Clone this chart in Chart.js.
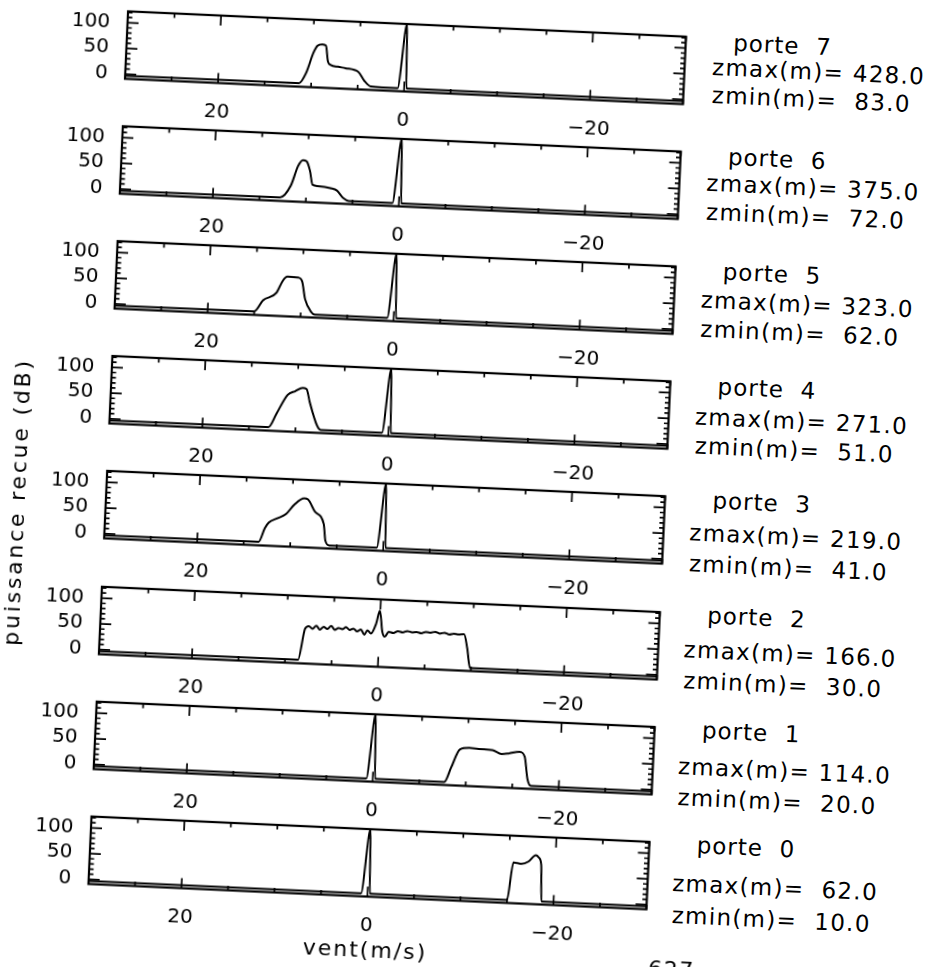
<!DOCTYPE html>
<html>
<head>
<meta charset="utf-8">
<script src="https://cdn.jsdelivr.net/npm/chart.js@4/dist/chart.umd.min.js"></script>
<style>
  html, body { margin: 0; padding: 0; background: #fff; overflow: hidden; width: 925px; height: 967px; }
  #sheet { position: absolute; left: 0; top: 0; width: 925px; height: 967px;
           transform-origin: 462.5px 483.5px; transform: rotate(2.6deg); }
  #sheet canvas { position: absolute; }
  .txt { position: absolute; white-space: pre; font-family: 'DejaVu Sans', sans-serif;
         color: #000; line-height: 1; }
</style>
</head>
<body>
<div id="sheet"></div>
<script>
// Range gates, top panel first
const gates = [7, 6, 5, 4, 3, 2, 1, 0];
const zmaxM = [428.0, 375.0, 323.0, 271.0, 219.0, 166.0, 114.0, 62.0];
const zminM = [83.0, 72.0, 62.0, 51.0, 41.0, 30.0, 20.0, 10.0];

// Axis ticks
const ventTicks = [20, 0, -20];
const puisTicks = [0, 50, 100];

// Doppler spectra: wind speed (m/s) and received power (dB) for each gate
const vent7 = [30, 11.3, 10.6, 9.9, 9.5, 9.0, 8.6, 8.3, 8.0, 7.2, 6.4, 5.0, 4.3, 3.6, 0.7, 0, -0.25, -30];
const puis7 = [-3, -2, 18, 58, 72, 75, 73, 42, 36, 33, 31, 25, 8, -2, -3, 122, -3, -3];

const vent6 = [30, 12.8, 11.7, 11.0, 10.5, 10.1, 9.7, 9.35, 8.8, 7.4, 6.7, 6.0, 5.4, 0.7, 0, -0.25, -30];
const puis6 = [-3, -2, 21, 60, 72, 70, 52, 25, 23, 20, 16, 2, -3, -3, 122, -3, -3];

const vent5 = [30, 15.0, 14.1, 12.7, 12.1, 11.6, 10.4, 10.0, 9.6, 8.9, 8.5, 0.7, 0, -0.25, -30];
const puis5 = [-3, -2, 20, 36, 59, 68, 67, 60, 26, 2, -3, -3, 122, -3, -3];

const vent4 = [30, 12.9, 12.1, 11.0, 10.2, 9.4, 9.0, 8.6, 7.7, 7.3, 0.7, 0, -0.25, -30];
const puis4 = [-3, -2, 25, 62, 70, 77, 75, 50, 5, -3, -3, 122, -3, -3];

const vent3 = [30, 13.4, 12.8, 12.4, 11.5, 10.6, 9.75, 8.7, 8.3, 7.5, 6.5, 6.25, 5.8, 0.7, 0, -0.25, -30];
const puis3 = [-3, -2, 25, 36, 45, 54, 73, 86, 84, 61, 38, 6, -3, -3, 122, -3, -3];

const vent2 = [30, 8.6, 8.0, 7.6, 7.2, 6.8, 6.4, 6.0, 5.6, 5.2, 4.8, 4.4, 4.0, 3.6, 3.2, 2.8, 2.4, 2.0, 1.6, 1.3,
               0.9, 0.4, 0.05, -0.3, -0.6, -1.0, -1.5, -2.0, -2.5, -3.0, -3.5, -4.0, -4.5, -5.0, -5.5, -6.0,
               -6.5, -7.0, -7.5, -8.0, -8.5, -9.1, -9.5, -9.9, -30];
const puis2 = [-3, -2, 58, 64, 59, 65, 58, 64, 60, 66, 59, 63, 61, 65, 60, 63, 58, 62, 52, 61,
               55, 74, 100, 60, 50, 60, 58, 62, 60, 63, 61, 62, 60, 63, 62, 64,
               61, 63, 60, 62, 61, 62, 35, -3, -3];

const vent1 = [30, 0.7, 0, -0.25, -7.7, -8.35, -9.2, -10.2, -11.5, -12.7, -13.7, -14.5, -15.6, -16.2, -16.6, -17.0, -30];
const puis1 = [-3, -3, 122, -3, -3, 25, 61, 65, 64, 63, 56, 58, 62, 53, 10, -3, -3];

const vent0 = [30, 0.7, 0, -0.25, -15.0, -15.5, -16.4, -17.1, -17.9, -18.2, -18.5, -18.7, -30];
const puis0 = [-3, -3, 122, -3, -3, 70, 68, 73, 86, 82, 68, -3, -3];

const spectra = [
  [vent7, puis7], [vent6, puis6], [vent5, puis5], [vent4, puis4],
  [vent3, puis3], [vent2, puis2], [vent1, puis1], [vent0, puis0]
];

// Panel geometry (page pixels)
const PLOT_LEFT = 107, PLOT_RIGHT = 665.5, PLOT_H = 67.5;
const FIRST_TOP = 26.5, STEP = 115.2;
const CANVAS_LEFT = 20, PAD_TOP = 10, X_AXIS_H = 45.5;
const CANVAS_W = 660, CANVAS_H = PAD_TOP + PLOT_H + X_AXIS_H;

const TICK_FONT = { family: "'DejaVu Sans', sans-serif", size: 20 };
const fmtVent = v => (v < 0 ? '\u2212' + Math.abs(v) : String(v));

// Closed frame with inward major and minor ticks on all four sides
const frameTicks = {
  id: 'frameTicks',
  afterDatasetsDraw(chart) {
    const { ctx, chartArea: a, scales: { x, y } } = chart;
    ctx.save();
    ctx.strokeStyle = '#000';
    ctx.lineCap = 'butt';
    ctx.lineWidth = 1.7;
    ctx.beginPath();
    for (let v = x.min; v <= x.max; v += 5) {
      const px = x.getPixelForValue(v);
      const len = ventTicks.includes(v) ? 10 : 4.5;
      ctx.moveTo(px, a.bottom); ctx.lineTo(px, a.bottom - len);
      ctx.moveTo(px, a.top); ctx.lineTo(px, a.top + len);
    }
    for (let v = 0; v <= y.max; v += 10) {
      const py = y.getPixelForValue(v);
      const len = puisTicks.includes(v) ? 11 : 4.5;
      ctx.moveTo(a.left, py); ctx.lineTo(a.left + len, py);
      ctx.moveTo(a.right, py); ctx.lineTo(a.right - len, py);
    }
    ctx.stroke();
    ctx.lineWidth = 2.2;
    ctx.strokeRect(a.left, a.top, a.right - a.left, a.bottom - a.top);
    ctx.restore();
  }
};

const sheet = document.getElementById('sheet');

function addText(str, left, centerY, size, spacing) {
  const d = document.createElement('div');
  d.className = 'txt';
  d.textContent = str;
  d.style.left = left + 'px';
  d.style.top = (centerY - size / 2) + 'px';
  d.style.fontSize = size + 'px';
  d.style.letterSpacing = spacing + 'px';
  sheet.appendChild(d);
  return d;
}

gates.forEach((g, k) => {
  const top = FIRST_TOP + k * STEP;
  const cv = document.createElement('canvas');
  cv.width = CANVAS_W; cv.height = CANVAS_H;
  cv.style.width = CANVAS_W + 'px'; cv.style.height = CANVAS_H + 'px';
  cv.style.left = CANVAS_LEFT + 'px';
  cv.style.top = (top - PAD_TOP) + 'px';
  sheet.appendChild(cv);

  const [vent, puis] = spectra[k];
  new Chart(cv.getContext('2d'), {
    type: 'line',
    data: {
      datasets: [{
        data: vent.map((v, i) => ({ x: v, y: puis[i] })),
        borderColor: '#000',
        borderWidth: 2,
        pointRadius: 0,
        fill: false,
        cubicInterpolationMode: 'monotone'
      }]
    },
    options: {
      responsive: false,
      animation: false,
      devicePixelRatio: 1,
      layout: { padding: { top: PAD_TOP, right: CANVAS_W + CANVAS_LEFT - PLOT_RIGHT, left: 0, bottom: 0 } },
      plugins: { legend: { display: false }, tooltip: { enabled: false } },
      scales: {
        x: {
          type: 'linear', min: -30, max: 30, reverse: true,
          grid: { display: false, drawTicks: false },
          border: { display: false },
          afterBuildTicks: s => { s.ticks = ventTicks.map(v => ({ value: v })); },
          afterFit: s => { s.height = X_AXIS_H; s.paddingLeft = 0; s.paddingRight = 0; },
          ticks: { padding: 17, maxRotation: 0, autoSkip: false, color: '#000', font: TICK_FONT,
                   callback: v => fmtVent(v) }
        },
        y: {
          type: 'linear', min: -9, max: 122,
          grid: { display: false, drawTicks: false },
          border: { display: false },
          afterBuildTicks: s => { s.ticks = puisTicks.map(v => ({ value: v })); },
          afterFit: s => { s.width = PLOT_LEFT - CANVAS_LEFT; s.paddingTop = 0; s.paddingBottom = 0; },
          ticks: { padding: 17.5, color: '#000', font: TICK_FONT, callback: v => String(v) }
        }
      }
    },
    plugins: [frameTicks]
  });

  // Gate annotation to the right of each panel
  addText('porte  ' + g, 713, top + 4.7 - 0.51 * k, 23, 1);
  addText('zmax(m)=' + (zmaxM[k] >= 100 ? ' ' : '  ') + zmaxM[k].toFixed(1),
          693 - 0.4 * k, top + 29.6 + 1.51 * k, 23, 1.3);
  addText('zmin(m)=' + (zminM[k] >= 100 ? ' ' : '  ') + zminM[k].toFixed(1),
          694 - 0.4 * k, top + 57.6 + 2.09 * k, 23, 1.3);
});

// Axis titles
const yTitle = addText('puissance recue (dB)', 19, 522, 22, 2.8);
yTitle.style.transformOrigin = '0 0';
yTitle.style.transform = 'rotate(-90deg) translate(-50%, -50%)';
yTitle.style.top = '522px';
yTitle.style.left = '19px';

const xTitle = addText('vent(m/s)', 0, 954, 22, 2);
xTitle.style.left = ((PLOT_LEFT + PLOT_RIGHT) / 2) + 'px';
xTitle.style.transform = 'translateX(-50%)';

// Page number at the foot of the sheet
addText('627', 670, 960, 22, 1.5);
</script>
</body>
</html>
